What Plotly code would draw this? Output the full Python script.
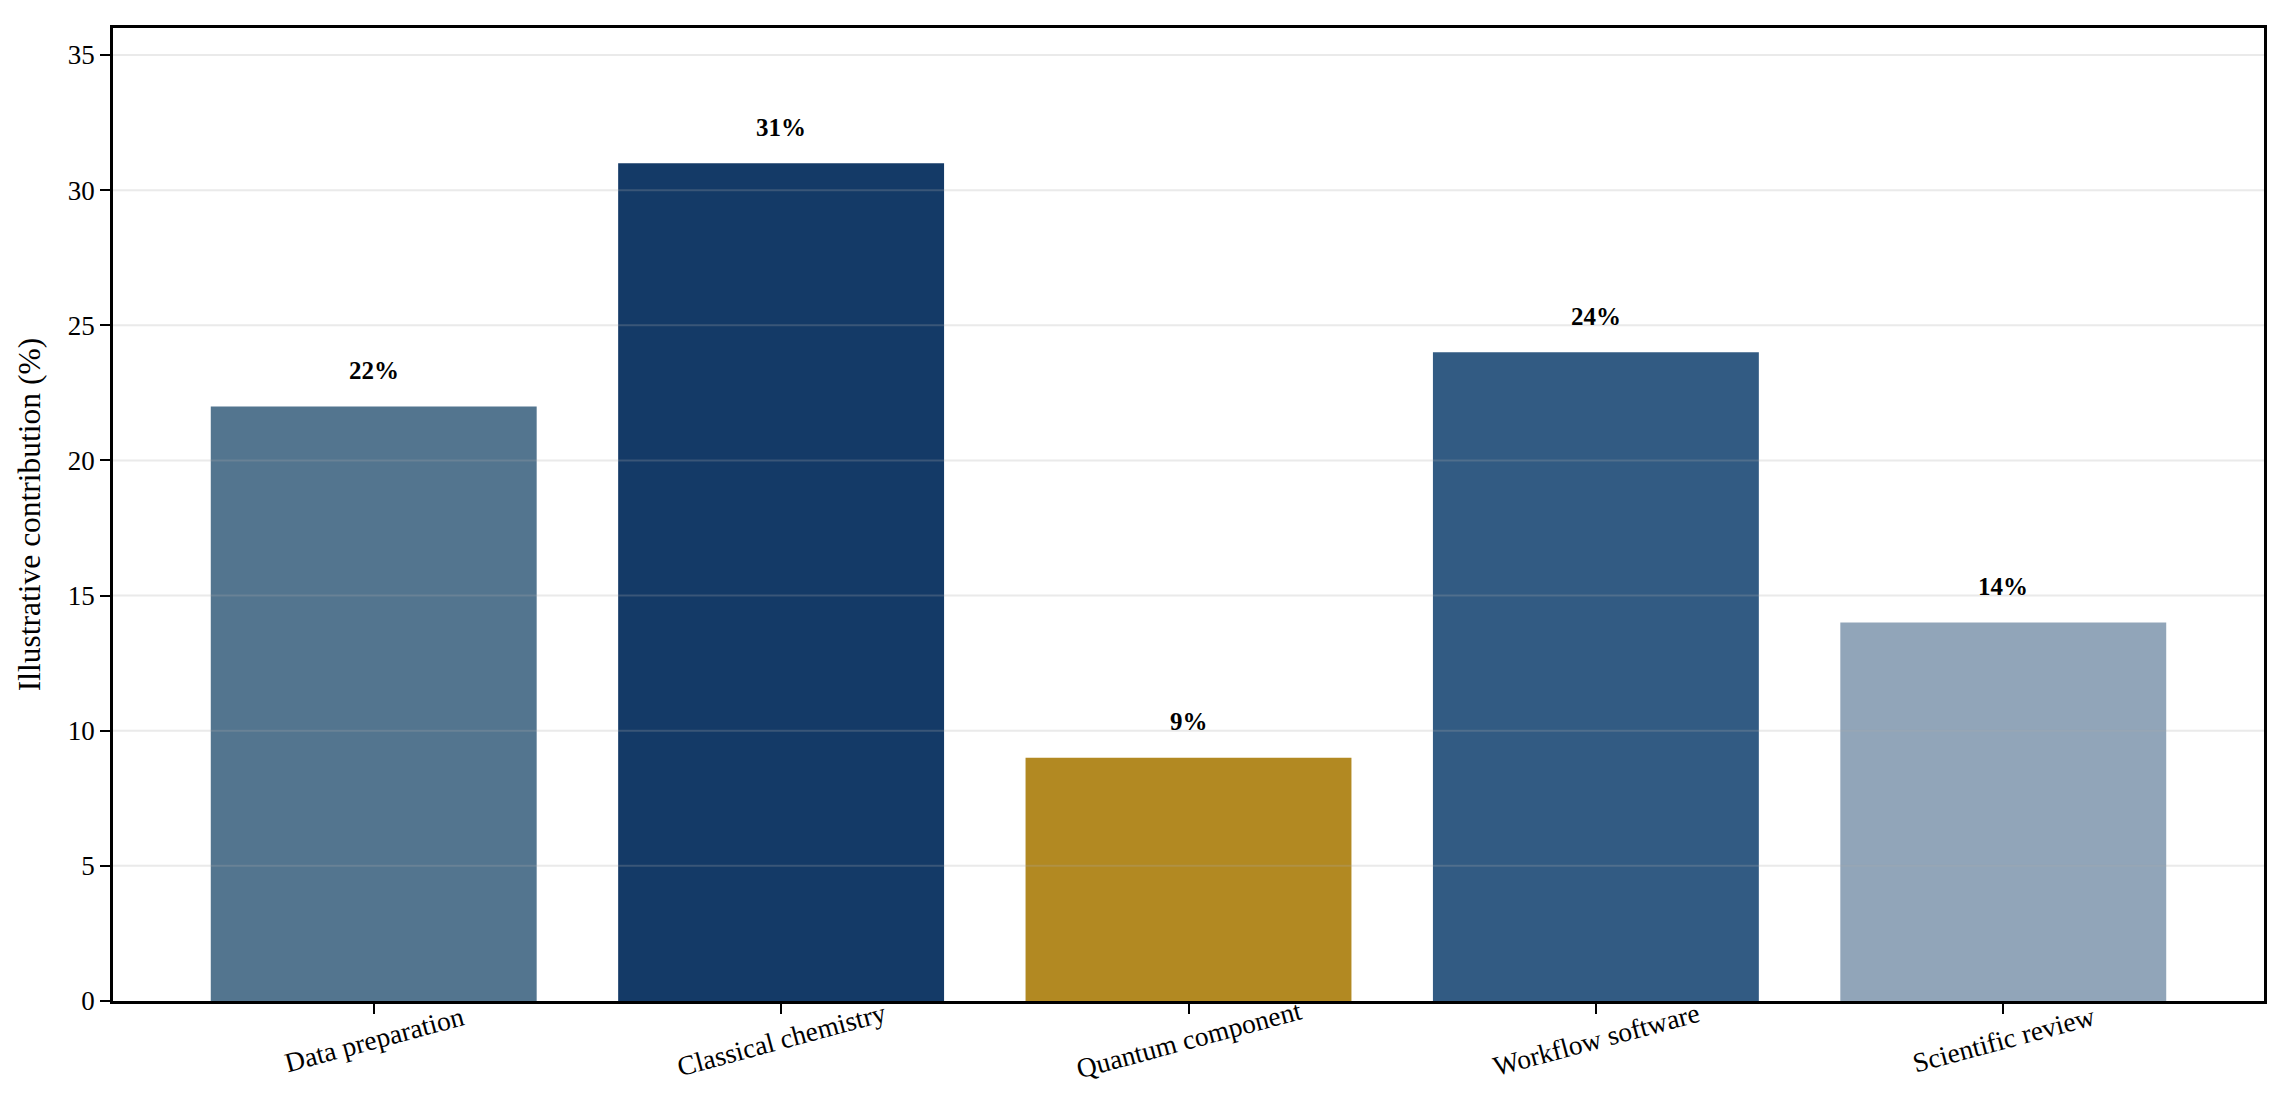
import plotly.graph_objects as go

# ── Data ──────────────────────────────────────────────────────
categories = ['Data preparation', 'Classical chemistry', 'Quantum component',
              'Workflow software', 'Scientific review']
values = [22, 31, 9, 24, 14]
bar_colors = ['#53758f', '#143a67', '#b28922', '#325b83', '#91a5b9']
y_ticks = [0, 5, 10, 15, 20, 25, 30, 35]

FONT = 'Liberation Serif, Times New Roman, serif'
GRID = 'rgba(170,170,170,0.25)'

fig = go.Figure()

fig.add_trace(go.Bar(
    x=list(range(len(categories))), y=values,
    marker=dict(color=bar_colors, line=dict(width=0)),
    width=0.8, showlegend=False, hoverinfo='skip',
))

# value labels above bars
for i, v in enumerate(values):
    fig.add_annotation(
        x=i, y=v + 0.75, text=f'<b>{v}%</b>', showarrow=False,
        xanchor='center', yanchor='bottom',
        font=dict(size=25, color='black', family=FONT),
    )

# category labels, centred under the ticks and tilted (matplotlib style)
for i, c in enumerate(categories):
    fig.add_annotation(
        x=i, xref='x', y=0, yref='paper', yshift=-38, text=c,
        showarrow=False, xanchor='center', yanchor='middle', textangle=-15,
        font=dict(size=27.5, color='black', family=FONT),
    )

# grid lines drawn above the bars (as in the reference)
for t in y_ticks[1:]:
    fig.add_shape(
        type='line', xref='paper', x0=0, x1=1, yref='y', y0=t, y1=t,
        line=dict(color=GRID, width=2), layer='above',
    )

axis_common = dict(
    showline=True, linecolor='black', linewidth=2.5, mirror=True,
    ticks='outside', ticklen=10, tickwidth=2.2, tickcolor='black',
    tickfont=dict(size=27, color='black', family=FONT),
    showgrid=False, zeroline=False,
)

fig.update_xaxes(
    tickmode='array', tickvals=list(range(len(categories))),
    showticklabels=False, range=[-0.64, 4.64],
    **axis_common,
)
fig.update_yaxes(
    tickmode='array', tickvals=y_ticks, range=[0, 36],
    title=dict(text='Illustrative contribution (%)',
               font=dict(size=31.5, color='black', family=FONT), standoff=18),
    **axis_common,
)

fig.update_layout(
    width=2285, height=1117,
    margin=dict(l=105, r=29, t=20, b=124),
    paper_bgcolor='white', plot_bgcolor='white',
    font=dict(family=FONT, color='black'),
    bargap=0.2,
)

fig.write_html('out.html')
